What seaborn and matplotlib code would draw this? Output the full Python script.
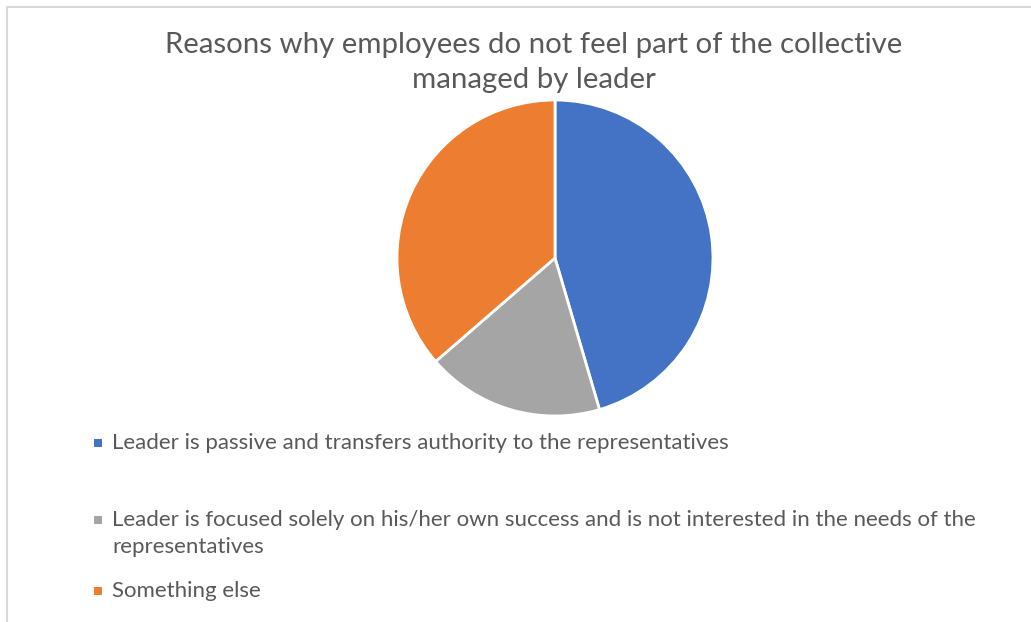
import matplotlib
matplotlib.use("Agg")
import matplotlib.pyplot as plt
from matplotlib.patches import Rectangle
import seaborn as sns

# ---- data ----
categories = [
    "Leader is passive and transfers authority to the representatives",
    "Leader is focused solely on his/her own success and is not interested in the needs of the\nrepresentatives",
    "Something else",
]
values = [5, 2, 4]
colors = ["#4472C4", "#A5A5A5", "#ED7D31"]
title_lines = ["Reasons why employees do not feel part of the collective", "managed by leader"]

sns.set_theme(style="white")
plt.rcParams["font.family"] = ["Lato", "DejaVu Sans"]

W, H = 1031, 622
fig = plt.figure(figsize=(W / 100, H / 100), dpi=100)
fig.patch.set_facecolor("white")

def fx(px):
    return px / W

def fy(py):
    return 1 - py / H

# chart border (top/left visible)
fig.patches.append(Rectangle((fx(7), fy(640)), fx(1060) - fx(7), fy(7) - fy(640),
                             transform=fig.transFigure, fill=False,
                             edgecolor="#D9D9D9", linewidth=1.5))

# title
fig.text(fx(534), fy(45), title_lines[0], ha="center", va="center",
         fontsize=21.2, color="#595959")
fig.text(fx(534), fy(80), title_lines[1], ha="center", va="center",
         fontsize=21.2, color="#595959")

# pie
cx, cy, r = 555, 258, 158
ax = fig.add_axes([fx(cx - r), fy(cy + r), 2 * r / W, 2 * r / H])
pal = sns.color_palette(colors)
ax.pie(values, colors=pal, startangle=90, counterclock=False,
       wedgeprops=dict(edgecolor="white", linewidth=2.0))
ax.set_xlim(-1.0, 1.0)
ax.set_ylim(-1.0, 1.0)
ax.set_aspect("equal")
ax.axis("off")

# legend (manual, Excel-like)
rows_y = [443, 520, 591]
for label, col, y in zip(categories, pal, rows_y):
    s = 8
    fig.patches.append(Rectangle((fx(94), fy(y + s / 2)), s / W, s / H,
                                 transform=fig.transFigure, facecolor=col,
                                 edgecolor="none"))
    for i, ln in enumerate(label.split("\n")):
        fig.text(fx(112), fy(y + 27 * i), ln, ha="left", va="center",
                 fontsize=16, color="#595959")

fig.savefig("out.png", dpi=100, facecolor="white")
